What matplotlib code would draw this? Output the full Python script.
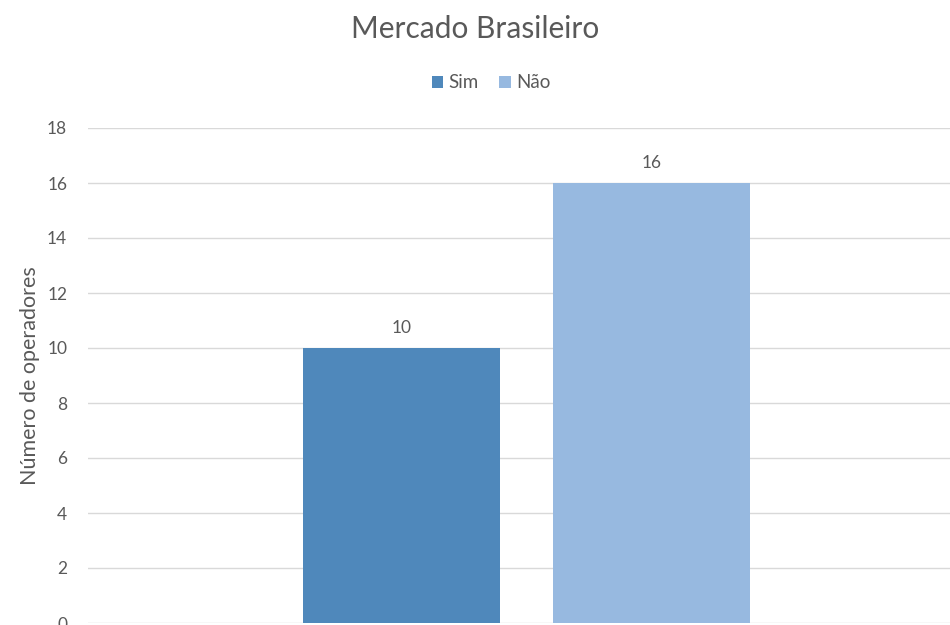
import matplotlib.pyplot as plt
import numpy as np

# data
series = ['Sim', 'Não']
values = [10, 16]
colors = ['#4F88BB', '#97B9E0']
yticks = list(range(0, 20, 2))

plt.rcParams['font.family'] = ['Lato', 'DejaVu Sans']
text_color = '#595959'

fig = plt.figure(figsize=(9.5, 6.25), dpi=100)
# plot area runs past the right edge of the image, as in the reference
ax = fig.add_axes([88 / 950, 1 - 623 / 625, 877 / 950, (623 - 128) / 625])

offsets = [-0.1425, 0.1425]
width = 0.2246
for name, val, col, off in zip(series, values, colors, offsets):
    ax.bar(off, val, width=width, color=col, label=name, zorder=3)
    ax.text(off, val + 0.45, str(val), ha='center', va='bottom',
            fontsize=12.5, color=text_color)

ax.set_xlim(-0.5, 0.5)
ax.set_ylim(0, 18)
ax.set_yticks(yticks)
ax.set_xticks([])
ax.yaxis.grid(True, color='#D9D9D9', linewidth=1, zorder=0)
for s in ax.spines.values():
    s.set_visible(False)
ax.tick_params(axis='y', length=0, labelsize=12.5, labelcolor=text_color, pad=15)
ax.set_ylabel('Número de operadores', fontsize=15.5, color=text_color, labelpad=5)

fig.text(0.5, 1 - 29 / 625, 'Mercado Brasileiro', ha='center', va='center',
         fontsize=21.5, color=text_color)
fig.legend(loc='center', bbox_to_anchor=(491 / 950, 1 - 83 / 625), ncol=2, frameon=False,
           fontsize=13.5, handlelength=0.6, handleheight=0.6, columnspacing=1.1,
           handletextpad=0.3, labelcolor=text_color)

fig.savefig('out.png', dpi=100)
